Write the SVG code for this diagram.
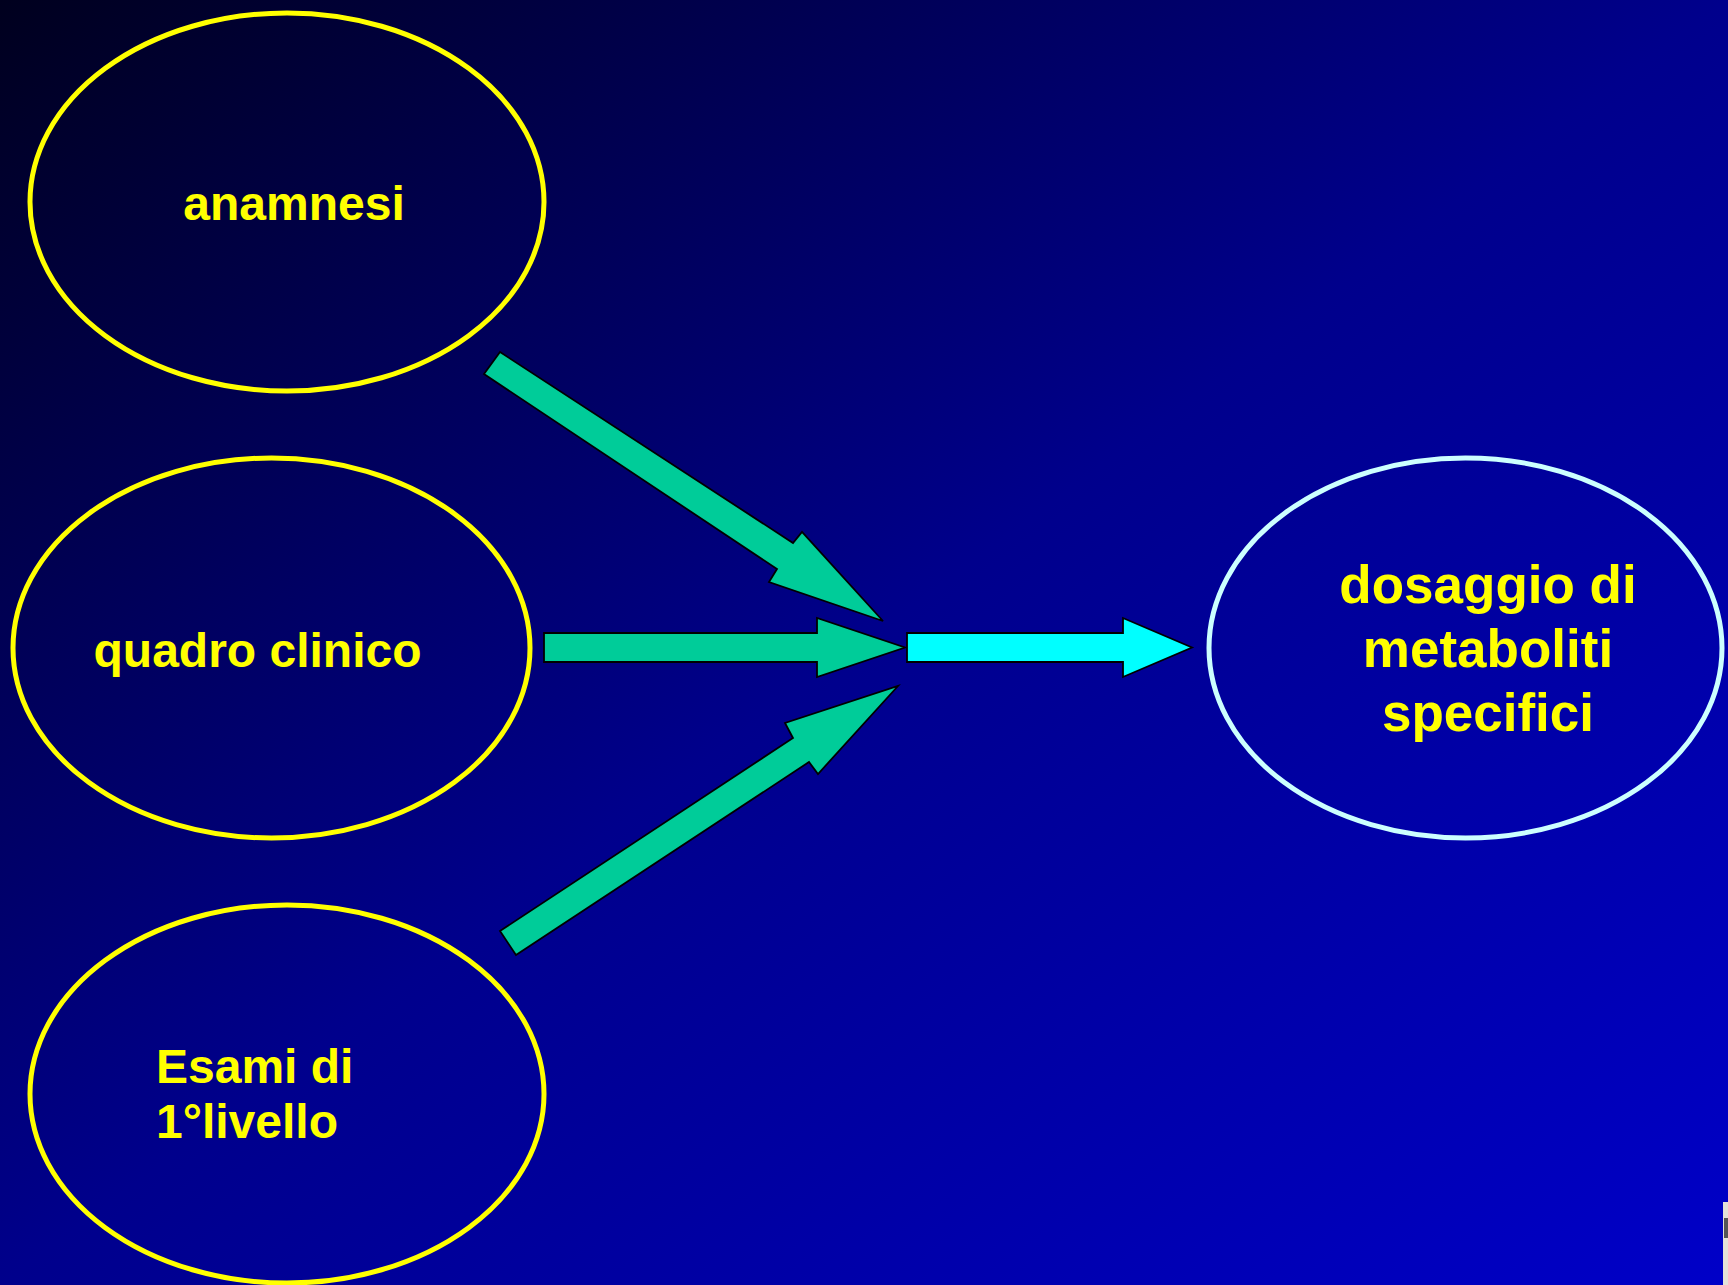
<svg xmlns="http://www.w3.org/2000/svg" width="1728" height="1285" viewBox="0 0 1728 1285">
  <defs>
    <linearGradient id="bg" x1="0" y1="0" x2="1" y2="1">
      <stop offset="0" stop-color="#00001E"/>
      <stop offset="0.5" stop-color="#00008C"/>
      <stop offset="1" stop-color="#0000C8"/>
    </linearGradient>
    <style>
      .node { fill: none; stroke-width: 5; }
      .src { stroke: #FFFF00; }
      .dst { stroke: #CCFFFF; }
      .label { font-family: "Liberation Sans", Arial, sans-serif; font-weight: bold; fill: #FFFF00; }
      .small { font-size: 48px; }
      .big { font-size: 53px; text-anchor: middle; }
      .arrow { stroke: #000000; stroke-width: 1.8; stroke-linejoin: miter; }
      .green { fill: #00CC99; }
      .cyan { fill: #00FFFF; }
    </style>
  </defs>

  <!-- background -->
  <rect x="0" y="0" width="1728" height="1285" fill="url(#bg)"/>
  <rect x="1723" y="1202" width="5" height="83" fill="#E4E2D8"/>
  <rect x="1724" y="1218" width="4" height="20" fill="#555555"/>

  <!-- source nodes -->
  <g id="anamnesi">
    <ellipse class="node src" cx="287" cy="202" rx="257" ry="189"/>
    <text class="label small" x="294" y="220" text-anchor="middle">anamnesi</text>
  </g>
  <g id="quadro-clinico">
    <ellipse class="node src" cx="271.5" cy="648" rx="258.5" ry="190"/>
    <text class="label small" x="257.5" y="667" text-anchor="middle">quadro clinico</text>
  </g>
  <g id="esami">
    <ellipse class="node src" cx="287" cy="1094" rx="257" ry="189"/>
    <text class="label small" x="156" y="1083">Esami di</text>
    <text class="label small" x="156" y="1138">1°livello</text>
  </g>

  <!-- target node -->
  <g id="dosaggio">
    <ellipse class="node dst" cx="1465.5" cy="648" rx="256.5" ry="190"/>
    <text class="label big" x="1488" y="603">dosaggio di</text>
    <text class="label big" x="1488" y="667">metaboliti</text>
    <text class="label big" x="1488" y="731">specifici</text>
  </g>

  <!-- connectors -->
  <g id="connectors">
    <polygon class="arrow green" points="500,352 793,543 802,532 883,621 769,582 777,569 484,374"/>
    <polygon class="arrow green" points="544,633 817,633 817,618 905,647.5 817,677 817,662 544,662"/>
    <polygon class="arrow green" points="500,931 793,738 785,723 898,686 818,774 809,762 516,955"/>
    <polygon class="arrow cyan" points="907,633 1123,633 1123,618 1192,647.5 1123,677 1123,662 907,662"/>
  </g>
</svg>
